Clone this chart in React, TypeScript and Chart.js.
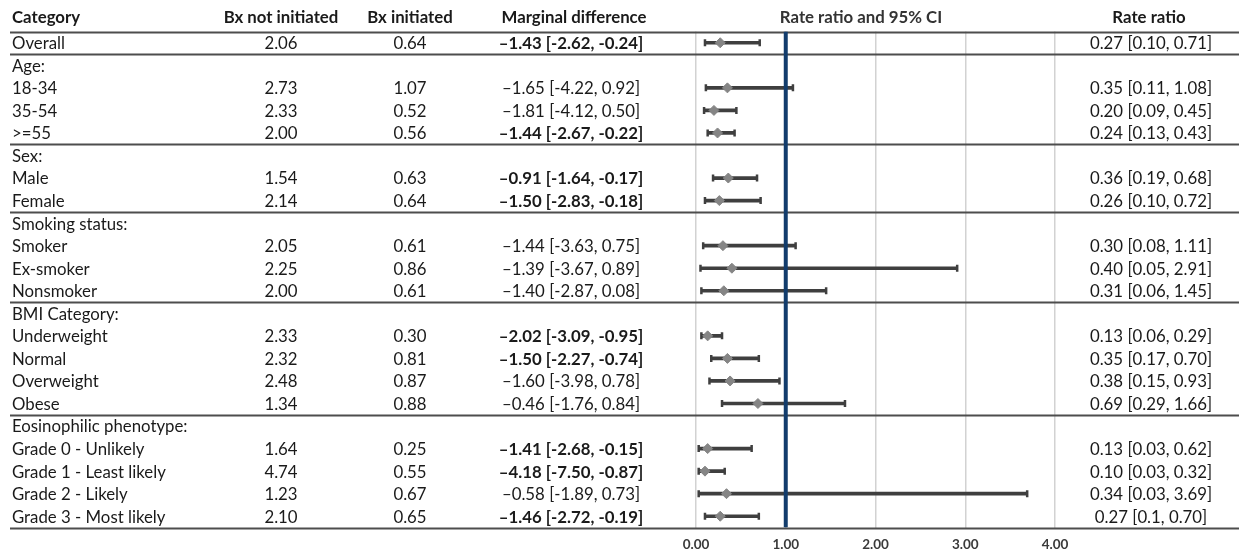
import React, { useEffect, useRef } from "react";
import { Chart, registerables } from "chart.js";

Chart.register(...registerables);

const categories = [
  "Overall", "Age:", "18-34", "35-54", ">=55", "Sex:", "Male", "Female",
  "Smoking status:", "Smoker", "Ex-smoker", "Nonsmoker", "BMI Category:",
  "Underweight", "Normal", "Overweight", "Obese", "Eosinophilic phenotype:",
  "Grade 0 - Unlikely", "Grade 1 - Least likely", "Grade 2 - Likely", "Grade 3 - Most likely",
];
const bxNotInitiated = ["2.06", "", "2.73", "2.33", "2.00", "", "1.54", "2.14", "", "2.05", "2.25", "2.00", "", "2.33", "2.32", "2.48", "1.34", "", "1.64", "4.74", "1.23", "2.10"];
const bxInitiated = ["0.64", "", "1.07", "0.52", "0.56", "", "0.63", "0.64", "", "0.61", "0.86", "0.61", "", "0.30", "0.81", "0.87", "0.88", "", "0.25", "0.55", "0.67", "0.65"];
const marginalDiff = [
  "–1.43 [-2.62, -0.24]", "", "–1.65 [-4.22, 0.92]", "–1.81 [-4.12, 0.50]", "–1.44 [-2.67, -0.22]", "",
  "–0.91 [-1.64, -0.17]", "–1.50 [-2.83, -0.18]", "", "–1.44 [-3.63, 0.75]", "–1.39 [-3.67, 0.89]",
  "–1.40 [-2.87, 0.08]", "", "–2.02 [-3.09, -0.95]", "–1.50 [-2.27, -0.74]", "–1.60 [-3.98, 0.78]",
  "–0.46 [-1.76, 0.84]", "", "–1.41 [-2.68, -0.15]", "–4.18 [-7.50, -0.87]", "–0.58 [-1.89, 0.73]", "–1.46 [-2.72, -0.19]",
];
const marginalBold = [true, false, false, false, true, false, true, true, false, false, false, false, false, true, true, false, false, false, true, true, false, true];
const rrEstimate = [0.27, null, 0.35, 0.20, 0.24, null, 0.36, 0.26, null, 0.30, 0.40, 0.31, null, 0.13, 0.35, 0.38, 0.69, null, 0.13, 0.10, 0.34, 0.27];
const rrLower = [0.10, null, 0.11, 0.09, 0.13, null, 0.19, 0.10, null, 0.08, 0.05, 0.06, null, 0.06, 0.17, 0.15, 0.29, null, 0.03, 0.03, 0.03, 0.10];
const rrUpper = [0.71, null, 1.08, 0.45, 0.43, null, 0.68, 0.72, null, 1.11, 2.91, 1.45, null, 0.29, 0.70, 0.93, 1.66, null, 0.62, 0.32, 3.69, 0.70];
const rrText = [
  "0.27 [0.10, 0.71]", "", "0.35 [0.11, 1.08]", "0.20 [0.09, 0.45]", "0.24 [0.13, 0.43]", "",
  "0.36 [0.19, 0.68]", "0.26 [0.10, 0.72]", "", "0.30 [0.08, 1.11]", "0.40 [0.05, 2.91]", "0.31 [0.06, 1.45]", "",
  "0.13 [0.06, 0.29]", "0.35 [0.17, 0.70]", "0.38 [0.15, 0.93]", "0.69 [0.29, 1.66]", "",
  "0.13 [0.03, 0.62]", "0.10 [0.03, 0.32]", "0.34 [0.03, 3.69]", "0.27 [0.1, 0.70]",
];
const separatorsAfter = [-1, 0, 4, 7, 11, 16, 21];
const headers = ["Category", "Bx not initiated", "Bx initiated", "Marginal difference", "Rate ratio and 95% CI", "Rate ratio"];
const referenceValue = 1;
const xMin = 0;
const xMax = 4;

const FONT = "Lato, 'Noto Sans', sans-serif";
const FS = 16.8;

export default function App() {
  const ref = useRef<HTMLCanvasElement | null>(null);

  useEffect(() => {
    document.body.style.margin = "0";
    const canvas = ref.current;
    if (!canvas) return;
    const n = categories.length;

    const bars: any[] = [];
    const caps: any[] = [];
    const points: any[] = [];
    for (let i = 0; i < n; i++) {
      if (rrEstimate[i] == null) continue;
      bars.push({ x: [rrLower[i], rrUpper[i]], y: i });
      caps.push({ x: rrLower[i], y: i });
      caps.push({ x: rrUpper[i], y: i });
      points.push({ x: rrEstimate[i], y: i });
    }

    const tablePlugin = {
      id: "tablePlugin",
      beforeDatasetsDraw(chart: any) {
        const ctx = chart.ctx;
        const y = chart.scales.y;
        ctx.save();
        ctx.strokeStyle = "#4d4d4d";
        ctx.lineWidth = 2.2;
        separatorsAfter.forEach((r) => {
          const py = Math.round(y.getPixelForValue(r + 0.5)) + 0.5;
          ctx.beginPath();
          ctx.moveTo(10, py);
          ctx.lineTo(1239, py);
          ctx.stroke();
        });
        ctx.restore();
      },
      afterDraw(chart: any) {
        const ctx = chart.ctx;
        const y = chart.scales.y;
        ctx.save();
        ctx.textBaseline = "middle";
        ctx.fillStyle = "#1a1a1a";
        ctx.font = `bold ${FS}px ${FONT}`;
        const hy = 18;
        ctx.textAlign = "left";
        ctx.fillText(headers[0], 12, hy);
        ctx.textAlign = "center";
        ctx.fillText(headers[1], 281, hy);
        ctx.fillText(headers[2], 410, hy);
        ctx.fillText(headers[3], 574, hy);
        ctx.fillStyle = "#333333";
        ctx.fillText(headers[4], 861, hy);
        ctx.fillStyle = "#1a1a1a";
        ctx.fillText(headers[5], 1149, hy);
        for (let i = 0; i < n; i++) {
          const py = y.getPixelForValue(i) + 1;
          ctx.font = `${FS}px ${FONT}`;
          ctx.textAlign = "left";
          ctx.fillText(categories[i], 12, py);
          ctx.textAlign = "center";
          if (bxNotInitiated[i]) ctx.fillText(bxNotInitiated[i], 281, py);
          if (bxInitiated[i]) ctx.fillText(bxInitiated[i], 410, py);
          if (rrText[i]) ctx.fillText(rrText[i], 1151, py);
          if (marginalDiff[i]) {
            ctx.font = `${marginalBold[i] ? "bold " : ""}${FS}px ${FONT}`;
            ctx.fillText(marginalDiff[i], 571, py);
          }
        }
        ctx.restore();
      },
    };

    const chart = new Chart(canvas, {
      type: "bar",
      data: {
        datasets: [
          {
            type: "line",
            data: [
              { x: referenceValue, y: -0.5 },
              { x: referenceValue, y: n - 0.5 },
            ],
            borderColor: "#123c6c",
            borderWidth: 4,
            pointRadius: 0,
            order: 0,
          } as any,
          {
            type: "scatter",
            data: points,
            pointStyle: "rectRot",
            pointRadius: 5,
            backgroundColor: "#858585",
            borderColor: "#858585",
            borderWidth: 1,
            order: 1,
          } as any,
          {
            type: "scatter",
            data: caps,
            pointStyle: "line",
            rotation: 90,
            pointRadius: 3.5,
            borderColor: "#3f3f3f",
            borderWidth: 2.5,
            order: 2,
          } as any,
          {
            type: "bar",
            indexAxis: "y",
            data: bars,
            backgroundColor: "#3f3f3f",
            borderWidth: 0,
            barThickness: 3,
            order: 3,
          } as any,
        ],
      },
      options: {
        animation: false,
        responsive: false,
        maintainAspectRatio: false,
        layout: { padding: { left: 696, right: 184, top: 31.5, bottom: 0 } },
        plugins: { legend: { display: false }, tooltip: { enabled: false }, title: { display: false } },
        scales: {
          x: {
            type: "linear",
            position: "bottom",
            min: xMin,
            max: xMax,
            offset: false,
            border: { display: false },
            grid: { color: "#d2d2d2", lineWidth: 1.5, drawTicks: false, offset: false },
            ticks: {
              stepSize: 1,
              padding: 9,
              color: "#3a3a3a",
              font: { family: FONT, size: 13.5, weight: "bold" },
              callback: (v: any) => Number(v).toFixed(2),
              maxRotation: 0,
            },
            afterFit: (s: any) => {
              s.height = 21.5;
            },
          },
          y: {
            type: "linear",
            min: -0.5,
            max: n - 0.5,
            reverse: true,
            offset: false,
            grid: { offset: false },
            display: false,
          },
        },
      } as any,
      plugins: [tablePlugin],
    });
    return () => chart.destroy();
  }, []);

  return (
    <div style={{ width: 1239, height: 549, background: "#fff" }}>
      <canvas ref={ref} width={1239} height={549} style={{ display: "block" }} />
    </div>
  );
}
